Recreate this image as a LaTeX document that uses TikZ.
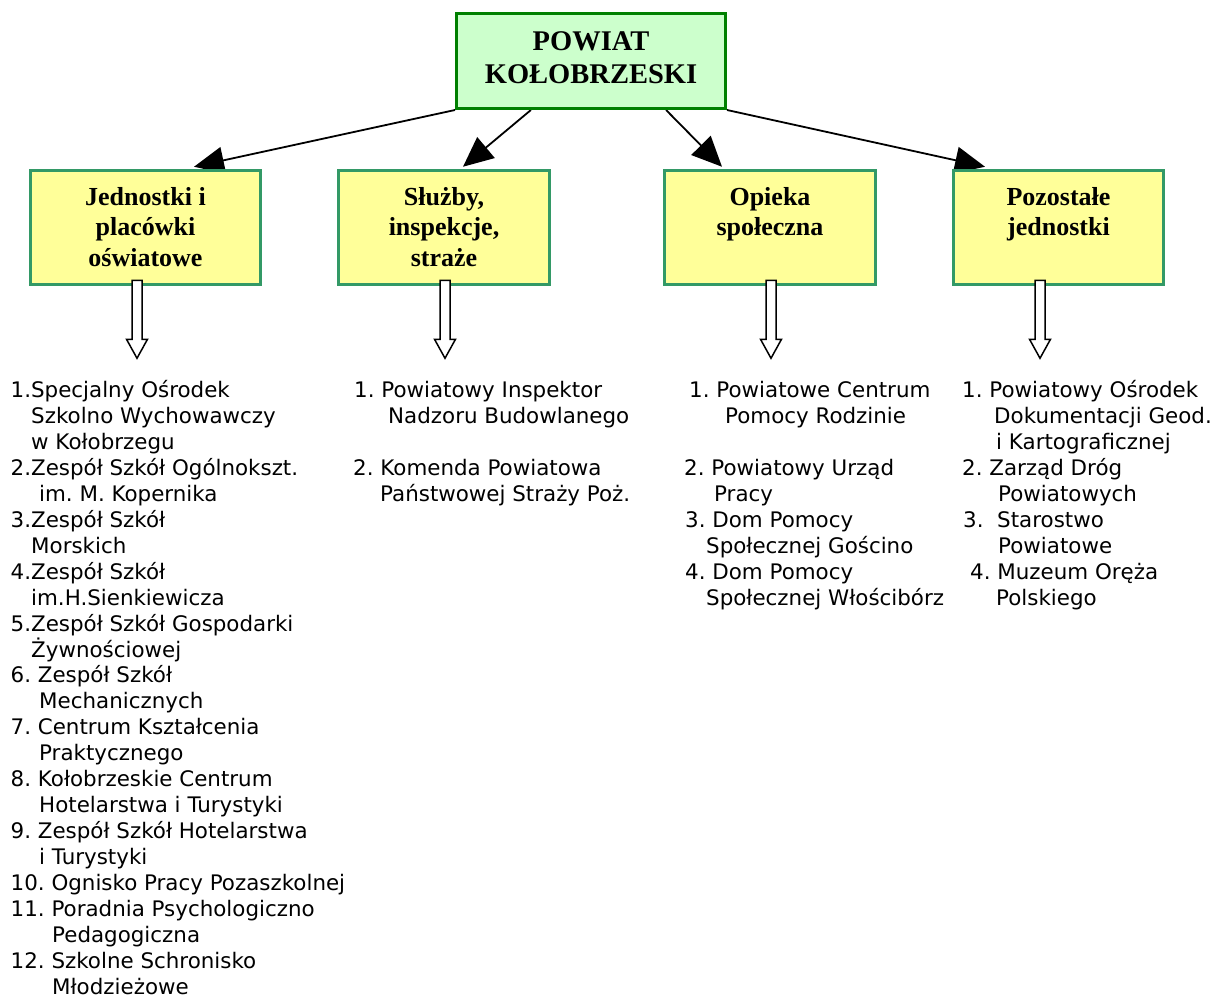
\documentclass[tikz,border=0pt]{standalone}
\usepackage{fontspec}
\setmainfont{Liberation Serif}
\newfontfamily\listfont{DejaVu Sans}
\usetikzlibrary{arrows.meta,calc}
\pgfdeclarelayer{background}
\pgfsetlayers{background,main}
\definecolor{topfill}{HTML}{CCFFCC}
\definecolor{topline}{HTML}{008000}
\definecolor{catfill}{HTML}{FFFF99}
\definecolor{catline}{HTML}{339966}
\frenchspacing
\tikzset{
  topbox/.style={draw=topline, fill=topfill, line width=3pt, inner sep=0pt, minimum width=269pt,
    font=\bfseries\fontsize{28.5}{33}\selectfont},
  catbox/.style={draw=catline, fill=catfill, line width=3pt, inner sep=0pt,
    font=\bfseries\fontsize{26}{30.5}\selectfont},
  conn/.style={line width=1.8pt, -{Triangle[length=30pt,width=27pt]}},
  hollow/.style={draw=black, fill=white, line width=1.5pt, line join=miter},
  listitem/.style={inner sep=0pt, anchor=base west, font=\listfont\fontsize{21.4}{24}\selectfont},
}
\newcommand\cattext[1]{\parbox[c][114.5pt][t]{205pt}{\centering\rule{0pt}{34.75pt}#1}}
\newcommand\hollowarrow[1]{\draw[hollow] ($(#1)+(-5,0)$) -- ++(0,59) -- ++(-5.5,0) -- ++(10.5,19) -- ++(10.5,-19) -- ++(-5.5,0) -- ++(0,-59) -- cycle;}
% list line: name, x, row index, text
\newcommand\li[4]{\node[listitem] (#1) at (#2,{397.5+25.95*#3}) {#4};}
\begin{document}
\begin{tikzpicture}[x=1pt,y=-1pt]
\useasboundingbox (0,0) rectangle (1213,999);

% top box
\node[topbox] (top) at (591,61) {\parbox[c][95pt][t]{260pt}{\centering\rule{0pt}{36.5pt}POWIAT\\KOŁOBRZESKI}};

% category boxes
\node[catbox, minimum width=230pt] (b1) at (145.5,227.5) {\cattext{Jednostki i\\placówki\\oświatowe}};
\node[catbox, minimum width=211pt] (b2) at (444,227.5) {\cattext{Służby,\\inspekcje,\\straże}};
\node[catbox, minimum width=211pt] (b3) at (770,227.5) {\cattext{Opieka\\społeczna}};
\node[catbox, minimum width=210pt] (b4) at (1058.5,227.5) {\cattext{Pozostałe\\jednostki}};

% connectors from the top box
\coordinate (s1) at (top.south west);
\coordinate (s2) at ($(top.south west)!0.279!(top.south east)$);
\coordinate (s3) at ($(top.south west)!0.776!(top.south east)$);
\coordinate (s4) at (top.south east);
\coordinate (t1) at ($(b1.north)+(48.5,-2)$);
\coordinate (t2) at ($(b2.north)+(19,-2)$);
\coordinate (t3) at ($(b3.north)+(-48,-2)$);
\coordinate (t4) at ($(b4.north)+(-73.5,-2)$);
\begin{pgfonlayer}{background}
\draw[conn] (s1) -- (t1);
\draw[conn] (s2) -- (t2);
\draw[conn] (s3) -- (t3);
\draw[conn] (s4) -- (t4);
\end{pgfonlayer}

% hollow arrows below the boxes
\coordinate (h1) at ($(b1.south)+(-8.5,-6)$);
\coordinate (h2) at ($(b2.south)+(1,-6)$);
\coordinate (h3) at ($(b3.south)+(1,-6)$);
\coordinate (h4) at ($(b4.south)+(-18.5,-6)$);
\hollowarrow{h1}
\hollowarrow{h2}
\hollowarrow{h3}
\hollowarrow{h4}

% column 1
\li{a1}{10.5}{0}{1.Specjalny Ośrodek}
\li{a2}{31}{1}{Szkolno Wychowawczy}
\li{a3}{31}{2}{w Kołobrzegu}
\li{a4}{10.5}{3}{2.Zespół Szkół Ogólnokszt.}
\li{a5}{39}{4}{im. M. Kopernika}
\li{a6}{10.5}{5}{3.Zespół Szkół}
\li{a7}{31}{6}{Morskich}
\li{a8}{10.5}{7}{4.Zespół Szkół}
\li{a9}{31}{8}{im.H.Sienkiewicza}
\li{a10}{10.5}{9}{5.Zespół Szkół Gospodarki}
\li{a11}{31}{10}{Żywnościowej}
\li{a12}{10.5}{11}{6. Zespół Szkół}
\li{a13}{39}{12}{Mechanicznych}
\li{a14}{10.5}{13}{7. Centrum Kształcenia}
\li{a15}{39}{14}{Praktycznego}
\li{a16}{10.5}{15}{8. Kołobrzeskie Centrum}
\li{a17}{39}{16}{Hotelarstwa i Turystyki}
\li{a18}{10.5}{17}{9. Zespół Szkół Hotelarstwa}
\li{a19}{39}{18}{i Turystyki}
\li{a20}{10.5}{19}{10. Ognisko Pracy Pozaszkolnej}
\li{a21}{10.5}{20}{11. Poradnia Psychologiczno}
\li{a22}{52}{21}{Pedagogiczna}
\li{a23}{10.5}{22}{12. Szkolne Schronisko}
\li{a24}{52}{23}{Młodzieżowe}

% column 2
\li{b1l1}{354}{0}{1. Powiatowy Inspektor}
\li{b1l2}{388}{1}{Nadzoru Budowlanego}
\li{b2l1}{353}{3}{2. Komenda Powiatowa}
\li{b2l2}{380}{4}{Państwowej Straży Poż.}

% column 3
\li{c1l1}{689}{0}{1. Powiatowe Centrum}
\li{c1l2}{725}{1}{Pomocy Rodzinie}
\li{c2l1}{684}{3}{2. Powiatowy Urząd}
\li{c2l2}{714}{4}{Pracy}
\li{c3l1}{685}{5}{3. Dom Pomocy}
\li{c3l2}{706}{6}{Społecznej Gościno}
\li{c4l1}{685}{7}{4. Dom Pomocy}
\li{c4l2}{706}{8}{Społecznej Włościbórz}

% column 4
\li{d1l1}{962}{0}{1. Powiatowy Ośrodek}
\li{d1l2}{994}{1}{Dokumentacji Geod.}
\li{d1l3}{996}{2}{i Kartograficznej}
\li{d2l1}{962}{3}{2. Zarząd Dróg}
\li{d2l2}{998}{4}{Powiatowych}
\li{d3l1}{963}{5}{3.~ Starostwo}
\li{d3l2}{998}{6}{Powiatowe}
\li{d4l1}{970}{7}{4. Muzeum Oręża}
\li{d4l2}{996}{8}{Polskiego}
\end{tikzpicture}
\end{document}
